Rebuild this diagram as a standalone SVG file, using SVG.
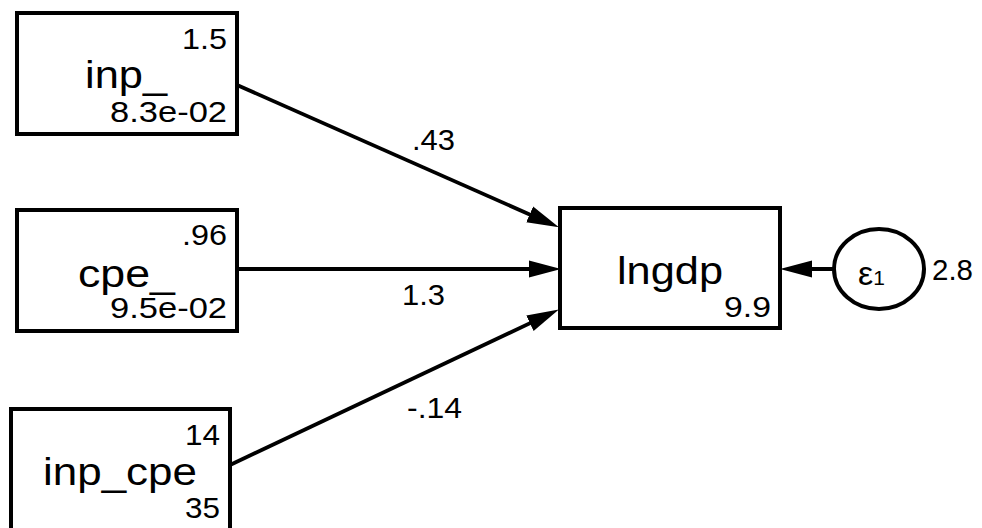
<svg xmlns="http://www.w3.org/2000/svg" width="982" height="528" viewBox="0 0 982 528">
<style>
.box{fill:#fff;stroke:#000;stroke-width:4}
.edge{stroke:#000;stroke-width:3.8;fill:none}
text{font-family:"Liberation Sans",Arial,sans-serif;fill:#000}
.s{font-size:29px}
.m{font-size:39px}
</style>
<defs>
<marker id="ah" markerUnits="userSpaceOnUse" markerWidth="32" markerHeight="18" viewBox="0 0 30 16" refX="15" refY="8" orient="auto">
<path d="M0,0 L30,8 L0,16 z" fill="#000"/>
</marker>
</defs>
<g id="connectors">
<line class="edge" x1="237" y1="85" x2="544.3" y2="220.9" marker-end="url(#ah)"/>
<line class="edge" x1="237" y1="269" x2="545" y2="269" marker-end="url(#ah)"/>
<line class="edge" x1="230" y1="465" x2="544.4" y2="316.4" marker-end="url(#ah)"/>
<line class="edge" x1="833" y1="269" x2="796" y2="269" marker-end="url(#ah)"/>
<text class="s" x="412" y="150" textLength="43" lengthAdjust="spacingAndGlyphs">.43</text>
<text class="s" x="402" y="305" textLength="43" lengthAdjust="spacingAndGlyphs">1.3</text>
<text class="s" x="407" y="418" textLength="55" lengthAdjust="spacingAndGlyphs">-.14</text>
</g>
<g id="inp_">
<rect class="box" x="17" y="13" width="220" height="121"/>
<text class="s" x="182" y="49" textLength="45" lengthAdjust="spacingAndGlyphs">1.5</text>
<text class="m" x="85" y="88" textLength="82" lengthAdjust="spacingAndGlyphs">inp_</text>
<text class="s" x="110" y="122" textLength="117" lengthAdjust="spacingAndGlyphs">8.3e-02</text>
</g>
<g id="cpe_">
<rect class="box" x="17" y="210" width="220" height="121"/>
<text class="s" x="182" y="245" textLength="45" lengthAdjust="spacingAndGlyphs">.96</text>
<text class="m" x="78" y="287" textLength="97" lengthAdjust="spacingAndGlyphs">cpe_</text>
<text class="s" x="110" y="318" textLength="117" lengthAdjust="spacingAndGlyphs">9.5e-02</text>
</g>
<g id="inp_cpe">
<rect class="box" x="11" y="409" width="219" height="130"/>
<text class="s" x="185" y="445" textLength="35" lengthAdjust="spacingAndGlyphs">14</text>
<text class="m" x="43" y="485" textLength="154" lengthAdjust="spacingAndGlyphs">inp_cpe</text>
<text class="s" x="185" y="518" textLength="35" lengthAdjust="spacingAndGlyphs">35</text>
</g>
<g id="lngdp">
<rect class="box" x="560" y="208" width="220" height="120"/>
<text class="m" x="617" y="284" textLength="106" lengthAdjust="spacingAndGlyphs">lngdp</text>
<text class="s" x="724" y="317" textLength="47" lengthAdjust="spacingAndGlyphs">9.9</text>
</g>
<g id="e1">
<ellipse class="box" cx="879" cy="269" rx="45" ry="40"/>
<text x="858" y="285" font-size="34" font-family="'Liberation Serif',serif">ε<tspan font-size="21" font-family="'Liberation Sans',sans-serif">1</tspan></text>
<text class="s" x="932" y="280" textLength="41" lengthAdjust="spacingAndGlyphs">2.8</text>
</g>
</svg>
